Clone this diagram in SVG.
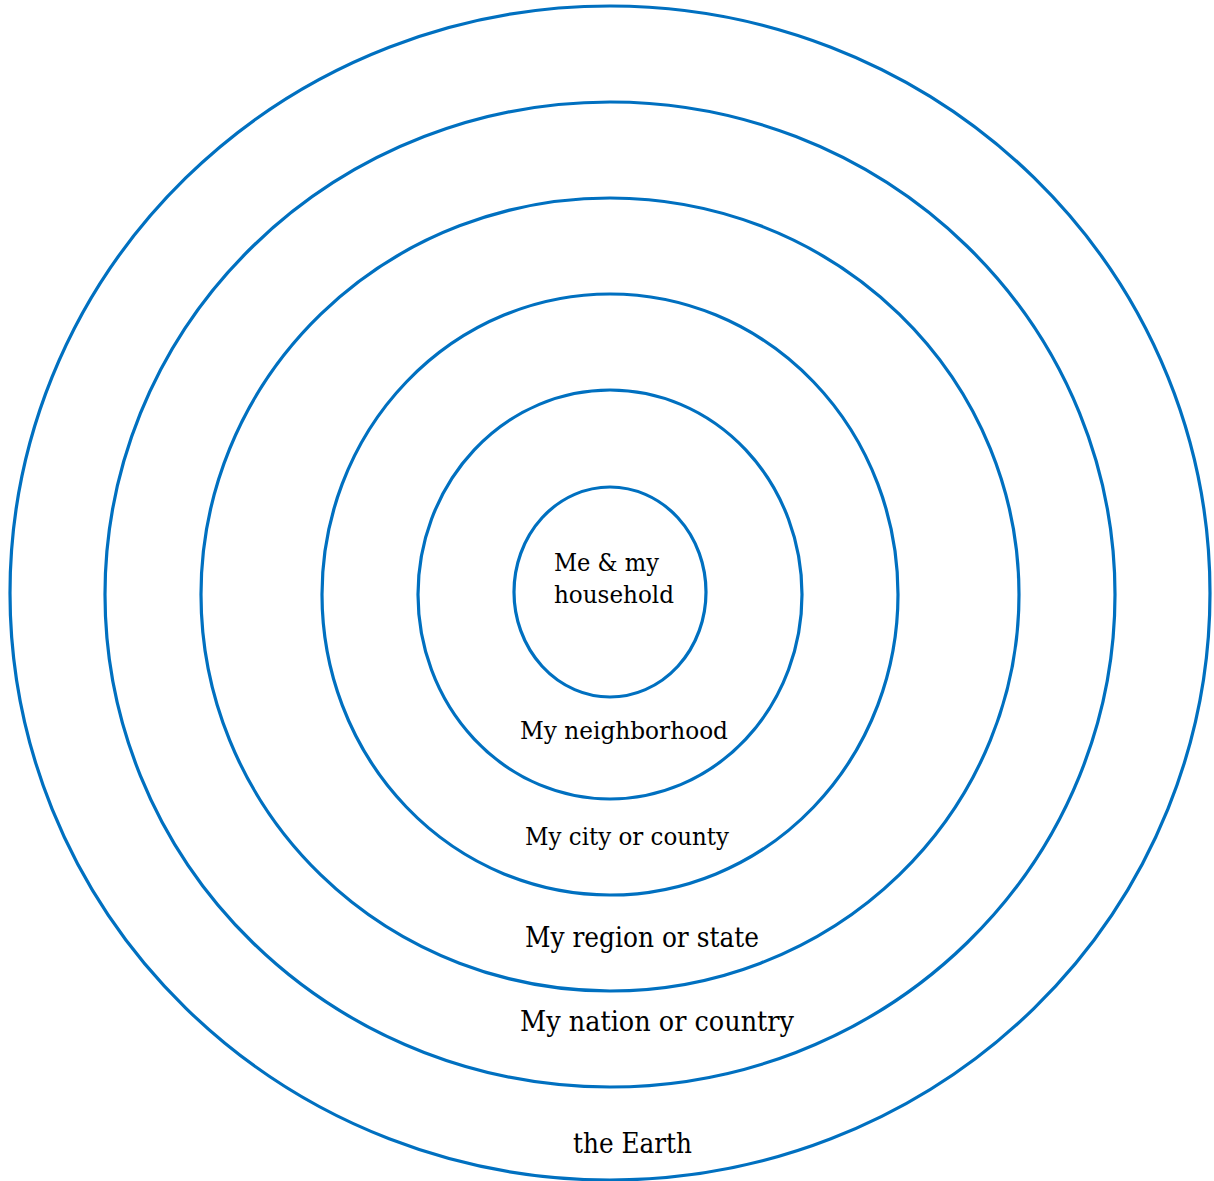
<svg xmlns="http://www.w3.org/2000/svg" width="1214" height="1181" viewBox="0 0 1214 1181">
<style>
.ring{fill:none;stroke:#0070C0;stroke-width:3.2}
.lbl{font-family:"DejaVu Serif","Liberation Serif",serif;font-size:25px;fill:#000}
.big{font-size:27px}
</style>
<rect width="1214" height="1181" fill="#fff"/>
<g id="earth"><ellipse class="ring" cx="610" cy="593" rx="600" ry="587"/>
<text class="lbl big" x="573" y="1153" textLength="119" lengthAdjust="spacingAndGlyphs">the Earth</text></g>
<g id="nation"><ellipse class="ring" cx="610" cy="594.5" rx="505" ry="492.5"/>
<text class="lbl big" x="520" y="1031" textLength="274" lengthAdjust="spacingAndGlyphs">My nation or country</text></g>
<g id="region"><ellipse class="ring" cx="610" cy="594.5" rx="409" ry="396.5"/>
<text class="lbl big" x="525" y="947" textLength="234" lengthAdjust="spacingAndGlyphs">My region or state</text></g>
<g id="city"><ellipse class="ring" cx="610" cy="594.5" rx="288" ry="300.5"/>
<text class="lbl" x="525" y="845" textLength="204" lengthAdjust="spacingAndGlyphs">My city or county</text></g>
<g id="neighborhood"><ellipse class="ring" cx="610" cy="594.5" rx="192" ry="204.5"/>
<text class="lbl" x="520" y="739" textLength="208" lengthAdjust="spacingAndGlyphs">My neighborhood</text></g>
<g id="household"><ellipse class="ring" cx="610" cy="592" rx="96" ry="105"/>
<text class="lbl" x="554" y="571" textLength="105" lengthAdjust="spacingAndGlyphs">Me &amp; my</text>
<text class="lbl" x="554" y="603" textLength="120" lengthAdjust="spacingAndGlyphs">household</text></g>
<g id="connectors"/>
</svg>
